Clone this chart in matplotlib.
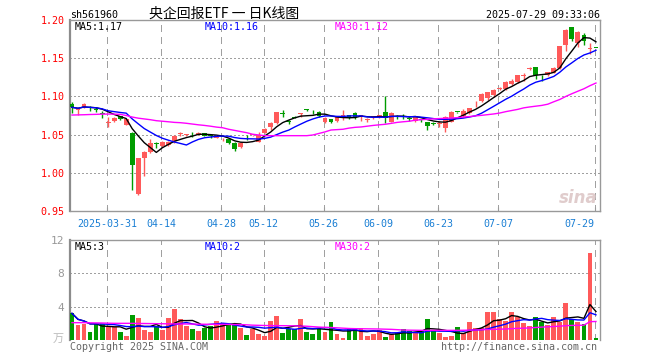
import numpy as np
import pandas as pd
import matplotlib
matplotlib.use("Agg")
import matplotlib.pyplot as plt

# === data (one entry per trading day) ===
opens = [1.0900, 1.0828, 1.0857, 1.0846, 1.0832, 1.0772, 1.0658, 1.0678, 1.0740, 1.0626,
         1.0520, 0.9722, 1.0190, 1.0277, 1.0383, 1.0351, 1.0364, 1.0420, 1.0508, 1.0494,
         1.0506, 1.0495, 1.0518, 1.0490, 1.0462, 1.0436, 1.0438, 1.0394, 1.0333, 1.0455,
         1.0490, 1.0407, 1.0525, 1.0603, 1.0656, 1.0770, 1.0665, 1.0725, 1.0765, 1.0825,
         1.0795, 1.0800, 1.0669, 1.0700, 1.0680, 1.0721, 1.0756, 1.0787, 1.0726, 1.0697,
         1.0730, 1.0726, 1.0800, 1.0669, 1.0737, 1.0737, 1.0714, 1.0682, 1.0700, 1.0669,
         1.0640, 1.0640, 1.0590, 1.0669, 1.0795, 1.0743, 1.0780, 1.0895, 1.0935, 1.0979,
         1.1014, 1.1100, 1.1101, 1.1162, 1.1188, 1.1262, 1.1356, 1.1380, 1.1252, 1.1276,
         1.1306, 1.1371, 1.1677, 1.1904, 1.1699, 1.1800, 1.1622, 1.1634]
highs = [1.0930, 1.0844, 1.0910, 1.0870, 1.0855, 1.0813, 1.0735, 1.0725, 1.0745, 1.0710,
         1.0530, 1.0200, 1.0285, 1.0440, 1.0397, 1.0412, 1.0418, 1.0490, 1.0528, 1.0510,
         1.0528, 1.0528, 1.0525, 1.0500, 1.0480, 1.0460, 1.0450, 1.0400, 1.0400, 1.0490,
         1.0500, 1.0538, 1.0580, 1.0660, 1.0800, 1.0822, 1.0690, 1.0743, 1.0778, 1.0832,
         1.0822, 1.0810, 1.0730, 1.0705, 1.0750, 1.0822, 1.0760, 1.0790, 1.0760, 1.0720,
         1.0750, 1.0760, 1.1005, 1.0800, 1.0760, 1.0765, 1.0730, 1.0750, 1.0710, 1.0670,
         1.0660, 1.0680, 1.0743, 1.0810, 1.0800, 1.0835, 1.0850, 1.0940, 1.1040, 1.1060,
         1.1095, 1.1120, 1.1200, 1.1228, 1.1280, 1.1306, 1.1380, 1.1390, 1.1280, 1.1325,
         1.1390, 1.1660, 1.1880, 1.1910, 1.1850, 1.1830, 1.1700, 1.1634]
lows = [1.0780, 1.0757, 1.0845, 1.0815, 1.0800, 1.0713, 1.0595, 1.0665, 1.0695, 1.0620,
        0.9780, 0.9715, 0.9960, 1.0265, 1.0320, 1.0335, 1.0345, 1.0395, 1.0488, 1.0482,
        1.0470, 1.0490, 1.0480, 1.0450, 1.0450, 1.0420, 1.0380, 1.0290, 1.0320, 1.0430,
        1.0480, 1.0400, 1.0520, 1.0560, 1.0640, 1.0734, 1.0638, 1.0712, 1.0734, 1.0810,
        1.0770, 1.0730, 1.0650, 1.0650, 1.0670, 1.0690, 1.0700, 1.0700, 1.0680, 1.0670,
        1.0710, 1.0720, 1.0647, 1.0660, 1.0700, 1.0710, 1.0680, 1.0670, 1.0660, 1.0560,
        1.0620, 1.0600, 1.0538, 1.0660, 1.0785, 1.0730, 1.0770, 1.0857, 1.0930, 1.0957,
        1.0990, 1.1090, 1.1090, 1.1153, 1.1180, 1.1197, 1.1340, 1.1230, 1.1200, 1.1270,
        1.1300, 1.1360, 1.1590, 1.1730, 1.1650, 1.1677, 1.1555, 1.1628]
closes = [1.0857, 1.0832, 1.0896, 1.0842, 1.0828, 1.0768, 1.0662, 1.0720, 1.0702, 1.0700,
          1.0102, 1.0190, 1.0277, 1.0386, 1.0379, 1.0407, 1.0407, 1.0482, 1.0512, 1.0498,
          1.0502, 1.0525, 1.0488, 1.0485, 1.0466, 1.0442, 1.0394, 1.0307, 1.0394, 1.0450,
          1.0494, 1.0499, 1.0573, 1.0656, 1.0795, 1.0765, 1.0660, 1.0720, 1.0770, 1.0820,
          1.0790, 1.0740, 1.0720, 1.0660, 1.0740, 1.0756, 1.0726, 1.0734, 1.0756, 1.0700,
          1.0734, 1.0756, 1.0712, 1.0778, 1.0732, 1.0730, 1.0705, 1.0743, 1.0695, 1.0612,
          1.0635, 1.0645, 1.0726, 1.0800, 1.0791, 1.0813, 1.0845, 1.0900, 1.1031, 1.1057,
          1.1088, 1.1105, 1.1188, 1.1206, 1.1276, 1.1267, 1.1360, 1.1276, 1.1248, 1.1319,
          1.1371, 1.1655, 1.1873, 1.1755, 1.1843, 1.1720, 1.1625, 1.1630]
volumes = [3.2, 1.76, 1.88, 0.92, 1.92, 1.88, 1.6, 1.6, 0.92, 0.48,
           2.96, 2.6, 1.2, 0.92, 1.68, 1.2, 2.6, 3.68, 2.48, 1.68,
           1.28, 1.08, 1.44, 1.68, 2.24, 2.0, 1.96, 1.96, 1.4, 0.56,
           1.28, 0.68, 0.48, 2.24, 2.84, 0.8, 1.28, 1.28, 2.48, 0.92,
           0.68, 1.4, 0.96, 2.12, 0.68, 0.24, 1.44, 1.44, 1.4, 0.48,
           0.68, 1.2, 0.36, 0.68, 0.8, 1.28, 1.08, 0.96, 1.08, 2.48,
           1.08, 0.8, 0.32, 0.44, 1.52, 0.8, 2.12, 1.4, 1.4, 3.32,
           3.32, 2.48, 2.24, 3.32, 2.8, 2.0, 1.64, 2.72, 2.12, 1.76,
           2.72, 2.12, 4.4, 2.48, 2.12, 1.88, 10.4, 0.2]
ma30_price = [1.0756, 1.0758, 1.0760, 1.0763, 1.0765, 1.0768, 1.0769, 1.0768, 1.0765, 1.0750,
              1.0730, 1.0715, 1.0705, 1.0695, 1.0682, 1.0675, 1.0668, 1.0660, 1.0656, 1.0648,
              1.0638, 1.0628, 1.0620, 1.0610, 1.0598, 1.0590, 1.0570, 1.0555, 1.0540, 1.0525,
              1.0505, 1.0495, 1.0486, 1.0486, 1.0486, 1.0486, 1.0486, 1.0486, 1.0486, 1.0486,
              1.0495, 1.0515, 1.0535, 1.0560, 1.0565, 1.0570, 1.0585, 1.0595, 1.0600, 1.0610,
              1.0620, 1.0628, 1.0635, 1.0647, 1.0660, 1.0668, 1.0675, 1.0688, 1.0695, 1.0700,
              1.0706, 1.0710, 1.0714, 1.0717, 1.0722, 1.0730, 1.0736, 1.0745, 1.0752, 1.0761,
              1.0770, 1.0782, 1.0800, 1.0815, 1.0830, 1.0850, 1.0862, 1.0872, 1.0882, 1.0898,
              1.0930, 1.0960, 1.1000, 1.1035, 1.1068, 1.1100, 1.1140, 1.1175]
ma30_vol = [2.08, 2.08, 2.08, 2.06, 2.05, 2.04, 2.02, 2.0, 2.0, 2.0,
            2.0, 1.98, 1.98, 1.97, 1.96, 1.95, 1.94, 1.93, 1.92, 1.92,
            1.91, 1.90, 1.89, 1.88, 1.88, 1.88, 1.87, 1.86, 1.85, 1.82,
            1.78, 1.76, 1.74, 1.73, 1.72, 1.72, 1.71, 1.70, 1.68, 1.65,
            1.6, 1.55, 1.52, 1.5, 1.46, 1.42, 1.38, 1.36, 1.35, 1.34,
            1.33, 1.32, 1.30, 1.28, 1.24, 1.20, 1.18, 1.17, 1.16, 1.16,
            1.16, 1.16, 1.16, 1.16, 1.16, 1.17, 1.18, 1.20, 1.24, 1.26,
            1.28, 1.30, 1.32, 1.36, 1.40, 1.42, 1.45, 1.50, 1.55, 1.58,
            1.62, 1.66, 1.72, 1.75, 1.76, 1.78, 2.20, 2.22]

date_labels = ["2025-03-31", "04-14", "04-28", "05-12", "05-26", "06-09", "06-23", "07-07", "07-29"]
date_pos = [6, 15, 25, 32, 42, 51, 61, 71, 87]
price_ticks = [0.95, 1.00, 1.05, 1.10, 1.15, 1.20]
vol_ticks = [4, 8, 12]

RED = "#ff5a5a"
GREEN = "#009c00"
GRID = "#a0a0a0"
FRAME = "#999999"
MONO = "DejaVu Sans Mono"
W, H = 660, 360


def px_rect(x0, y0, x1, y1):
    return [x0 / W, 1 - y1 / H, (x1 - x0) / W, (y1 - y0) / H]


def fig_text(x, y, s, **kw):
    kw.setdefault("family", MONO)
    kw.setdefault("fontsize", 7.2)
    kw.setdefault("va", "center")
    fig.text(x / W, 1 - y / H, s, **kw)


fig = plt.figure(figsize=(6.6, 3.6), dpi=100)
ax = fig.add_axes(px_rect(70, 20, 600, 211))
axv = fig.add_axes(px_rect(70, 240, 600, 340))

o, h, l, c = (np.array(v) for v in (opens, highs, lows, closes))
x = np.arange(len(c))
colors = list(np.where(c >= o, RED, GREEN))

# === candles ===
ax.vlines(x, l, h, colors=colors, lw=1, zorder=3)
body = np.maximum(np.abs(c - o), 0.0012)
ax.bar(x, body, bottom=np.minimum(o, c), width=0.8, color=colors, linewidth=0, zorder=3)

ma5 = pd.Series(c).rolling(5, min_periods=1).mean().to_numpy()
ma10 = pd.Series(c).rolling(10, min_periods=1).mean().to_numpy()
ax.plot(x, ma5, color="black", lw=1, zorder=4)
ax.plot(x, ma10, color="#0000ff", lw=1, zorder=4)
ax.plot(x, ma30_price, color="#ff00ff", lw=1, zorder=4)

# === volume ===
v = pd.Series(volumes)
axv.bar(x, volumes, width=0.8, color=colors, linewidth=0, zorder=3)
axv.plot(x, v.rolling(5, min_periods=1).mean().to_numpy(), color="black", lw=1, zorder=4)
axv.plot(x, v.rolling(10, min_periods=1).mean().to_numpy(), color="#0000ff", lw=1, zorder=4)
axv.plot(x, ma30_vol, color="#ff00ff", lw=1, zorder=4)

ax.set_ylim(0.95, 1.20)
axv.set_ylim(0, 12)
grid_x = [p - 0.2 for p in date_pos]
for a, (y0, y1), hlines in ((ax, (0.95, 1.20), price_ticks[1:-1]), (axv, (0, 12), vol_ticks[:-1])):
    a.set_xlim(-0.33, 87.67)
    for gx in grid_x:
        a.plot([gx, gx], [y0, y1], linestyle=(0, (5, 4)), color=GRID, lw=1,
               antialiased=False, zorder=1.5)
    for t in hlines:
        a.plot([-0.33, 87.67], [t, t], linestyle=(0, (1, 2)), color=GRID, lw=1,
               antialiased=False, zorder=1.5)
    a.set_xticks(grid_x)
    for side in ("top", "right", "bottom"):
        a.spines[side].set_color(FRAME)
        a.spines[side].set_linewidth(1)
    a.spines["left"].set_color("#8c8c8c")
    a.spines["left"].set_linewidth(1.6)
    a.tick_params(axis="y", length=0, pad=4)

ax.set_yticks(price_ticks)
ax.set_yticklabels([f"{t:.2f}" for t in price_ticks], color="red", family=MONO, fontsize=7.2)
ax.set_xticklabels(date_labels, color="#1a7fd4", family=MONO, fontsize=7.2)
ax.tick_params(axis="x", direction="in", length=3, color=FRAME, pad=6)
ax.get_xticklabels()[-1].set_ha("right")

axv.set_yticks(vol_ticks)
axv.set_yticklabels([str(t) for t in vol_ticks], color="#999999", family=MONO, fontsize=8)
axv.tick_params(axis="x", length=0, labelbottom=False)
axv.spines["bottom"].set_visible(False)

# === texts ===
fig_text(70, 15, "sh561960")
fig_text(224, 14, "央企回报ETF 一 日K线图", family=["Noto Sans CJK SC", "DejaVu Sans"],
         fontsize=10, ha="center")
fig_text(600, 15, "2025-07-29 09:33:06", ha="right")

fig_text(75, 27, "MA5:1.17", color="black")
fig_text(205, 27, "MA10:1.16", color="#0000ff")
fig_text(335, 27, "MA30:1.12", color="#ff00ff")
fig_text(75, 247, "MA5:3", color="black")
fig_text(205, 247, "MA10:2", color="#0000ff")
fig_text(335, 247, "MA30:2", color="#ff00ff")

fig_text(64, 339, "万", family=["Noto Sans CJK SC", "DejaVu Sans"], fontsize=8,
         color="#bbbbbb", ha="right")
fig_text(70, 347, "Copyright 2025 SINA.COM", color="#666666")
fig_text(597, 347, "http://finance.sina.com.cn", color="#666666", ha="right")
fig_text(578, 198, "sina", family="DejaVu Sans", fontsize=12, style="italic",
         weight="bold", color="#e0cccc", ha="center")

fig.savefig("out.png", dpi=100)
